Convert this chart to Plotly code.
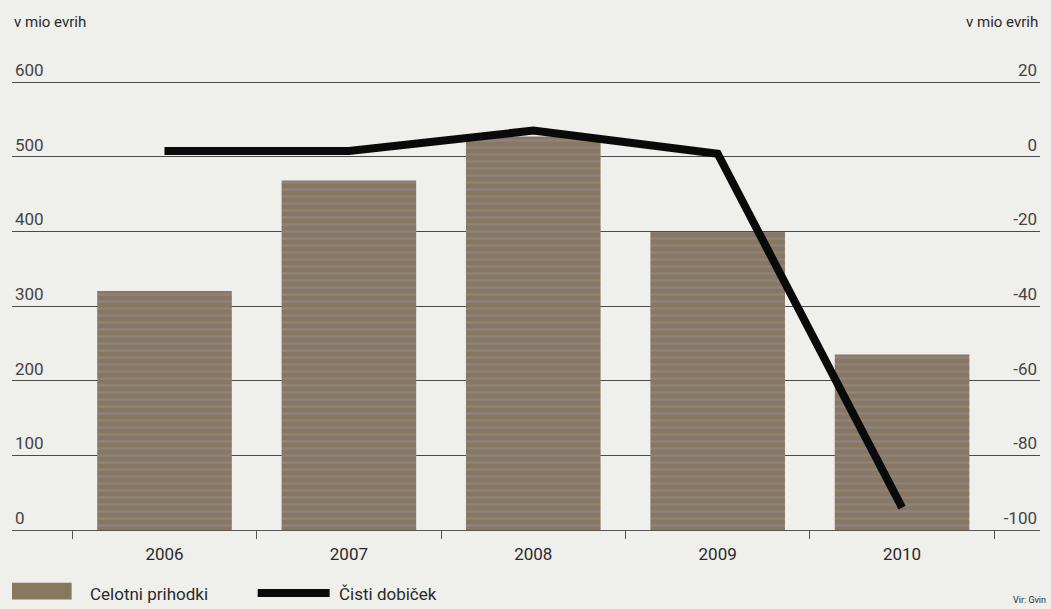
import plotly.graph_objects as go

years = ["2006", "2007", "2008", "2009", "2010"]
revenue = [320, 468, 527, 399, 235]          # Celotni prihodki (v mio evrih)
profit = [1.5, 1.5, 7.0, 0.8, -94.0]          # Čisti dobiček (v mio evrih)
left_ticks = [0, 100, 200, 300, 400, 500, 600]
left_labels = ["0", "100", "200", "300", "400", "500", "600"]
right_ticks = [-100, -80, -60, -40, -20, 0, 20]
right_labels = ["-100", "-80", "-60", "-40", "-20", "0", "20"]

font_family = "Roboto, Liberation Sans, Arial"
text_color = "#2a2a2a"
bar_color = "#87785f"
bg = "#efefec"

fig = go.Figure()
fig.add_trace(go.Bar(
    x=years, y=revenue, name="Celotni prihodki",
    marker=dict(color=bar_color, line=dict(width=0),
                pattern=dict(shape="-", fgcolor="#968aa3", bgcolor=bar_color,
                             size=7, solidity=0.35)),
    width=0.73, yaxis="y", showlegend=False,
))
fig.add_trace(go.Scatter(
    x=years, y=profit, name="Čisti dobiček", mode="lines",
    line=dict(color="#0a0a0a", width=8), yaxis="y2", showlegend=False,
))

fig.update_layout(
    width=1051, height=609,
    margin=dict(l=12, r=11, t=60, b=79),
    paper_bgcolor=bg, plot_bgcolor=bg,
    font=dict(family=font_family, size=17, color=text_color),
    bargap=0.27,
    xaxis=dict(
        type="category", range=[-0.827, 4.748],
        showline=True, linecolor="#555", linewidth=1.2,
        ticks="outside", tickson="boundaries", ticklen=8, tickcolor="#555",
        showgrid=False, tickfont=dict(size=17), ticklabelstandoff=8,
    ),
    yaxis=dict(
        range=[0, 629.5], tickvals=left_ticks, ticktext=left_labels,
        showgrid=True, gridcolor="#4a4a4a", gridwidth=1,
        ticklabelposition="inside top", zeroline=False,
        tickfont=dict(size=17), showline=False,
    ),
    yaxis2=dict(
        range=[-100, 25.9], tickvals=right_ticks, ticktext=right_labels,
        overlaying="y", side="right",
        showgrid=False, zeroline=False,
        ticklabelposition="inside top", tickfont=dict(size=17),
    ),
    annotations=[
        dict(text="v mio evrih", xref="paper", yref="paper", x=0, y=1,
             yshift=38, xanchor="left", yanchor="middle", showarrow=False,
             font=dict(size=15)),
        dict(text="v mio evrih", xref="paper", yref="paper", x=1, y=1,
             yshift=38, xanchor="right", yanchor="middle", showarrow=False,
             font=dict(size=15)),
        dict(text="Celotni prihodki", xref="paper", yref="paper", x=0.074,
             y=0, yshift=-64, xanchor="left", yanchor="middle",
             showarrow=False, font=dict(size=17)),
        dict(text="Čisti dobiček", xref="paper", yref="paper", x=0.316,
             y=0, yshift=-64, xanchor="left", yanchor="middle",
             showarrow=False, font=dict(size=17)),
        dict(text="Vir: Gvin", xref="paper", yref="paper", x=1, y=0,
             yshift=-70, xshift=8, xanchor="right", yanchor="middle",
             showarrow=False, font=dict(size=9)),
    ],
    shapes=[
        dict(type="rect", xref="paper", yref="paper",
             x0=0.0, x1=0.058, y0=-0.112, y1=-0.148,
             fillcolor=bar_color, line=dict(width=0)),
        dict(type="line", xref="paper", yref="paper",
             x0=0.239, x1=0.309, y0=-0.134, y1=-0.134,
             line=dict(color="#0a0a0a", width=8)),
    ],
)

fig.write_html(
    "out.html",
    config={"displayModeBar": False},
    post_script="document.body.style.margin='0';"
                "document.body.style.overflow='hidden';",
)
